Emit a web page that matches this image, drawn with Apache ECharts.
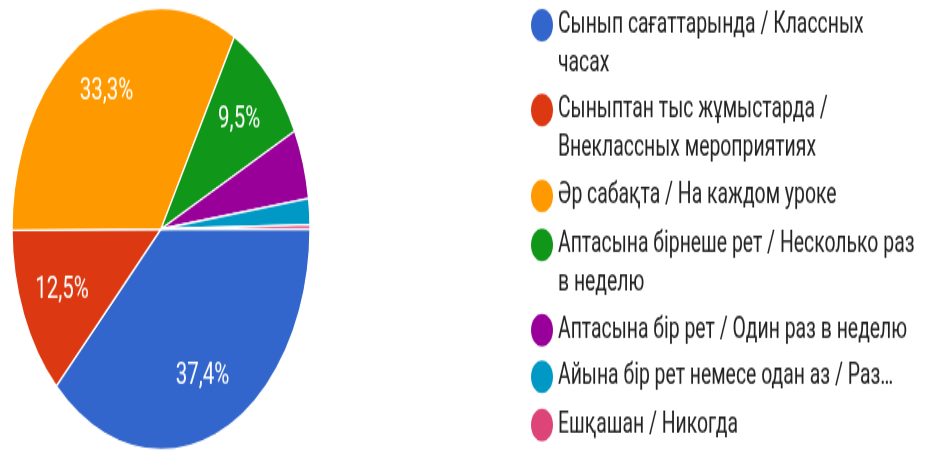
<!DOCTYPE html>
<html>
<head>
<meta charset="utf-8">
<script src="https://cdn.jsdelivr.net/npm/echarts@6/dist/echarts.min.js"></script>
<style>
html,body{margin:0;padding:0;background:#fff;overflow:hidden;width:930px;height:452px;}
#c{width:930px;height:305px;transform:scaleY(1.482);transform-origin:0 0;}
</style>
</head>
<body>
<div id="c"></div>
<script>
const categories = [
  'Сынып сағаттарында / Классных часах',
  'Сыныптан тыс жұмыстарда / Внеклассных мероприятиях',
  'Әр сабақта / На каждом уроке',
  'Аптасына бірнеше рет / Несколько раз в неделю',
  'Аптасына бір рет / Один раз в неделю',
  'Айына бір рет немесе одан аз / Раз…',
  'Ешқашан / Никогда'
];
const legendLines = [
  ['Сынып сағаттарында / Классных', 'часах'],
  ['Сыныптан тыс жұмыстарда /', 'Внеклассных мероприятиях'],
  ['Әр сабақта / На каждом уроке'],
  ['Аптасына бірнеше рет / Несколько раз', 'в неделю'],
  ['Аптасына бір рет / Один раз в неделю'],
  ['Айына бір рет немесе одан аз / Раз…'],
  ['Ешқашан / Никогда']
];
const values = [37.4, 12.5, 33.3, 9.5, 5.1, 1.9, 0.3];
const colors = ['#3366cc', '#dc3912', '#ff9900', '#109618', '#990099', '#0099c6', '#dd4477'];

const legendIconY = [16.9, 74.2, 132.3, 165.3, 222.7, 254.2, 286.8];
const LH = 26;
const ICON_W = 28;
const ICON_H = 22;
const ellipse = 'path://M50,0 C77.6,0 100,22.4 100,50 C100,77.6 77.6,100 50,100 C22.4,100 0,77.6 0,50 C0,22.4 22.4,0 50,0 Z';

const legends = categories.map((name, i) => {
  const lines = legendLines[i];
  const two = lines.length > 1;
  return {
    data: [name],
    orient: 'vertical',
    left: 531,
    top: legendIconY[i] - (two ? LH * 1.5 : LH / 2),
    padding: 0,
    icon: ellipse,
    itemWidth: ICON_W,
    itemHeight: ICON_H,
    itemGap: 0,
    itemStyle: { borderWidth: 0 },
    selectedMode: false,
    formatter: () => two ? ' \n' + lines.join('\n') : lines[0],
    textStyle: {
      fontFamily: 'Roboto',
      fontSize: 19.4,
      color: '#222222',
      lineHeight: LH,
      padding: [0, 0, 0, -3]
    }
  };
});

const data = categories.map((n, i) => ({ name: n, value: values[i], itemStyle: { color: colors[i] } }));
const labelData = categories.map((n, i) => ({ name: n, value: values[i] }));

const chart = echarts.init(document.getElementById('c'));
chart.setOption({
  animation: false,
  legend: legends,
  series: [
    {
      type: 'pie',
      center: [161, 154.5],
      radius: [0, 149],
      startAngle: 0,
      clockwise: true,
      silent: true,
      label: { show: false },
      labelLine: { show: false },
      itemStyle: { borderColor: '#ffffff', borderWidth: 1.3 },
      data: data
    },
    {
      type: 'pie',
      center: [161, 154.5],
      radius: [60, 149],
      startAngle: 0,
      clockwise: true,
      silent: true,
      legendHoverLink: false,
      itemStyle: { color: 'rgba(0,0,0,0)', borderWidth: 0 },
      label: {
        show: true,
        position: 'inside',
        fontFamily: 'Roboto',
        fontSize: 20.5,
        color: '#ffffff',
        formatter: p => p.value >= 9 ? p.value.toFixed(1).replace('.', ',') + '%' : ''
      },
      labelLine: { show: false },
      data: labelData
    }
  ]
});
</script>
</body>
</html>
